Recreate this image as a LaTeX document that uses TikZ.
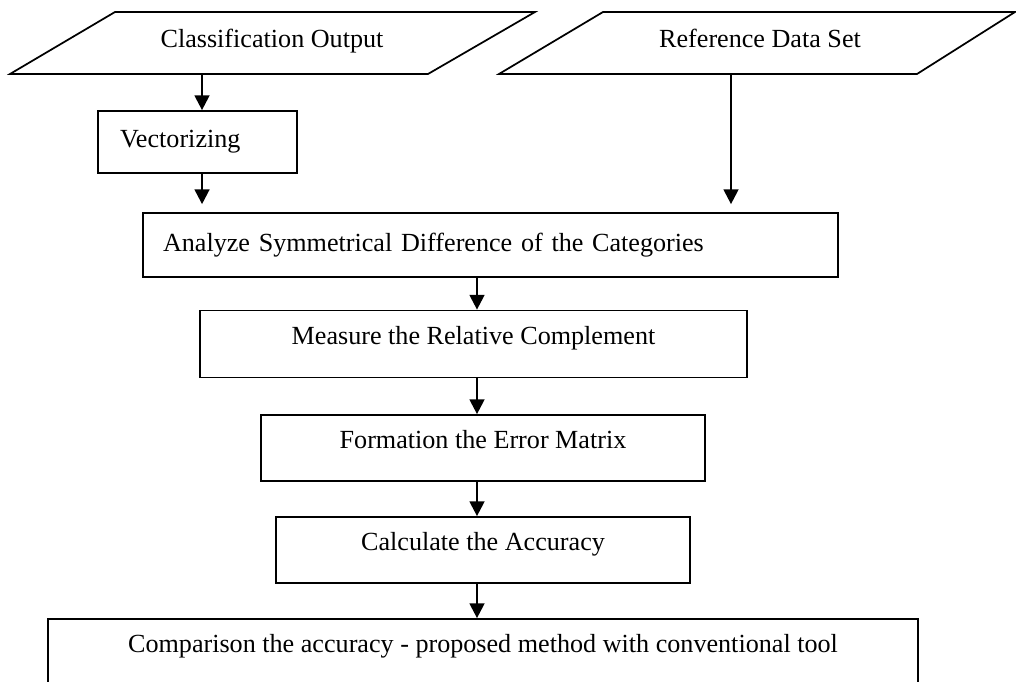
\documentclass[tikz,border=0pt]{standalone}
\usepackage{fontspec}
\setmainfont{Liberation Serif}
\usetikzlibrary{arrows.meta,calc}

\begin{document}
\begin{tikzpicture}[
  x=0.75pt, y=-0.75pt,
  font=\fontsize{19.6}{24}\selectfont,
  io/.style={draw, line width=1.3pt, line join=miter},
  iotext/.style={inner sep=0pt, text height=8pt, text depth=8pt},
  box/.style={draw, line width=1.3pt, inner sep=0pt, align=center,
              text height=8pt, text depth=8pt},
  lbox/.style={draw, line width=1.3pt, inner ysep=0pt, align=left},
  ar/.style={line width=1.7pt, -{Triangle[length=11pt, width=11pt]}}
]
\useasboundingbox (0,0) rectangle (1016,681);

% inputs
\draw[io] (10,74) -- (428,74) -- (535,12) -- (115,12) -- cycle;
\node[iotext] (cls) at (272,48) {Classification Output};
\draw[io] (499,74) -- (917,74) -- (1015,12) -- (603,12) -- cycle;
\node[iotext] (ref) at (760,48) {Reference Data Set};
\coordinate (cls-out) at (202,74);
\coordinate (ref-out) at (731,74);
\coordinate (spine) at (477,0);

% process chain
\node[lbox, text width=116.25pt, inner xsep=16.5pt, minimum height=46.5pt] (vec) at (197.5,142) {Vectorizing};
\node[lbox, text width=491.25pt, inner xsep=15pt, minimum height=48pt] (ana) at (490.5,245) {Analyze Symmetrical Difference of the Categories};
\node[box, minimum width=410.25pt, minimum height=50.25pt] (meas) at (473.5,344) {Measure the Relative Complement};
\node[box, minimum width=333pt, minimum height=49.5pt] (form) at (483,448) {Formation the Error Matrix};
\node[box, minimum width=310.5pt, minimum height=49.5pt] (calc) at (483,550) {Calculate the Accuracy};
\node[box, minimum width=652.5pt, minimum height=49.5pt] (comp) at (483,652) {Comparison the accuracy - proposed method with conventional tool};

\draw[ar] (cls-out) -- (cls-out |- vec.north);
\draw[ar, shorten >=6pt] ([xshift=3.4pt]vec.south) -- ([xshift=3.4pt]vec.south |- ana.north);
\draw[ar, shorten >=6pt] (ref-out) -- (ref-out |- ana.north);
\draw[ar] (ana.south -| spine) -- (meas.north -| spine);
\draw[ar] (meas.south -| spine) -- (form.north -| spine);
\draw[ar] (form.south -| spine) -- (calc.north -| spine);
\draw[ar] (calc.south -| spine) -- (comp.north -| spine);
\end{tikzpicture}
\end{document}
